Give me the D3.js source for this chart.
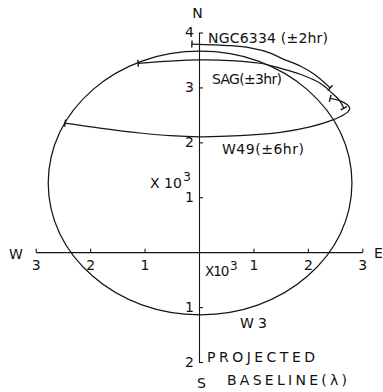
<!DOCTYPE html>
<html>
<head>
<meta charset="utf-8">
<script src="https://cdn.jsdelivr.net/npm/d3@7"></script>
<style>
  html, body { margin: 0; padding: 0; background: #fff; }
  svg { display: block; }
  text { font-family: "DejaVu Sans", "Liberation Sans", sans-serif; fill: #111; }
</style>
</head>
<body>
<svg id="chart" width="383" height="392"></svg>
<script>
// Projected baseline (u east-west, v north-south) in units of 10^3 wavelengths.
const uTicks = [-3, -2, -1, 1, 2, 3];
const vTicks = [-2, -1, 1, 2, 3, 4];

// W3 is circumpolar: a closed track, listed anticlockwise from the east side.
const trackW3 = [
  [2.81, 1.26], [2.60, 2.18], [1.99, 2.96], [1.09, 3.48], [0.02, 3.66],
  [-1.05, 3.48], [-1.95, 2.96], [-2.56, 2.18], [-2.77, 1.26], [-2.56, 0.34],
  [-1.95, -0.44], [-1.05, -0.96], [0.02, -1.14], [1.09, -0.96], [1.99, -0.44],
  [2.60, 0.34]
];

// NGC 6334, hour angle -2h .. +2h
const trackNGC6334 = [
  [-0.13, 3.79], [0.57, 3.76], [0.94, 3.72], [1.30, 3.63], [1.54, 3.52],
  [1.86, 3.39], [2.13, 3.23], [2.41, 2.99]
];

// Sgr, hour angle -3h .. +3h
const trackSAG = [
  [-1.12, 3.44], [-0.53, 3.48], [0.02, 3.50], [0.57, 3.49], [1.12, 3.44],
  [1.49, 3.35], [1.86, 3.24], [2.22, 3.08], [2.44, 2.90], [2.59, 2.75],
  [2.66, 2.62]
];

// W49, hour angle -6h .. +6h
const trackW49 = [
  [-2.46, 2.35], [-1.82, 2.26], [-1.08, 2.17], [-0.53, 2.12], [0.02, 2.10],
  [0.75, 2.12], [1.49, 2.18], [2.04, 2.28], [2.41, 2.39], [2.62, 2.48],
  [2.73, 2.55], [2.77, 2.62], [2.72, 2.69], [2.58, 2.76], [2.41, 2.80]
];

const svg = d3.select("#chart");
const ink = "#151515";

const x = d3.scaleLinear().domain([-3, 3]).range([35.7, 362.3]);
const y = d3.scaleLinear().domain([-2, 4]).range([362, 32.5]);

// Axes: ticks point inward (up on the u axis, right on the v axis)
const xAxis = d3.axisBottom(x)
  .tickValues(uTicks)
  .tickFormat(d => Math.abs(d))
  .tickSizeInner(-3.5)
  .tickSizeOuter(0)
  .tickPadding(8);

const yAxis = d3.axisLeft(y)
  .tickValues(vTicks)
  .tickFormat(d => Math.abs(d))
  .tickSizeInner(-4)
  .tickSizeOuter(0)
  .tickPadding(5);

const gx = svg.append("g")
  .attr("transform", `translate(0,${y(0)})`)
  .call(xAxis);
const gy = svg.append("g")
  .attr("transform", `translate(${x(0)},0)`)
  .call(yAxis);

[gx, gy].forEach(g => {
  g.select(".domain").attr("stroke", ink).attr("stroke-width", 1.1);
  g.selectAll(".tick line").attr("stroke", ink).attr("stroke-width", 1.1);
  g.selectAll(".tick text")
    .attr("font-family", '"DejaVu Sans", sans-serif')
    .attr("font-size", 14)
    .attr("fill", ink);
});

// Tracks
const open = d3.line().x(d => x(d[0])).y(d => y(d[1])).curve(d3.curveCatmullRom.alpha(0.5));
const closed = d3.line().x(d => x(d[0])).y(d => y(d[1])).curve(d3.curveCatmullRomClosed.alpha(0.5));

const tracks = svg.append("g")
  .attr("fill", "none")
  .attr("stroke", ink)
  .attr("stroke-width", 1.25)
  .attr("stroke-linejoin", "round");

tracks.append("path").attr("d", closed(trackW3));
[trackNGC6334, trackSAG, trackW49].forEach(t => {
  tracks.append("path").attr("d", open(t));
  // short bar across each end of the hour-angle range
  [[t[0], t[1]], [t[t.length - 1], t[t.length - 2]]].forEach(([p, q]) => {
    const px = x(p[0]), py = y(p[1]);
    const dx = x(q[0]) - px, dy = y(q[1]) - py;
    const len = Math.hypot(dx, dy);
    const nx = -dy / len * 3.5, ny = dx / len * 3.5;
    tracks.append("line")
      .attr("x1", px - nx).attr("y1", py - ny)
      .attr("x2", px + nx).attr("y2", py + ny)
      .attr("stroke-width", 1.4);
  });
});

// Labels
const labels = svg.append("g");
function label(txt, lx, ly, opts = {}) {
  const t = labels.append("text")
    .attr("x", lx).attr("y", ly)
    .attr("text-anchor", opts.anchor || "start")
    .attr("font-size", opts.size || 14)
    .text(txt);
  if (opts.width) t.attr("textLength", opts.width).attr("lengthAdjust", "spacing");
  return t;
}
// scale factor written as X 10 with a raised exponent
function powerLabel(base, exp, lx, ly, size, spacing) {
  const t = labels.append("text").attr("x", lx).attr("y", ly).attr("font-size", size);
  t.append("tspan").attr("letter-spacing", spacing).text(base);
  t.append("tspan").attr("dx", 1.5).attr("dy", -6.5).attr("font-size", 12).text(exp);
  return t;
}

label("N", 197.5, 17.5, { anchor: "middle" });
label("S", 201.5, 388, { anchor: "middle" });
label("W", 9, 259);
label("E", 374, 258);

label("NGC6334 (±2hr)", 208, 42.5, { width: 120 });
label("SAG(±3hr)", 212, 83.5, { width: 70 });
label("W49(±6hr)", 222, 153.5, { width: 82 });
label("W 3", 240, 327.5, { width: 27 });

powerLabel("X 10", "3", 150, 187.5, 14, 0);
powerLabel("X10", "3", 205, 276, 13.5, -1);

label("PROJECTED", 207, 362, { width: 108 });
label("BASELINE(λ)", 227, 385, { width: 120 });
</script>
</body>
</html>
